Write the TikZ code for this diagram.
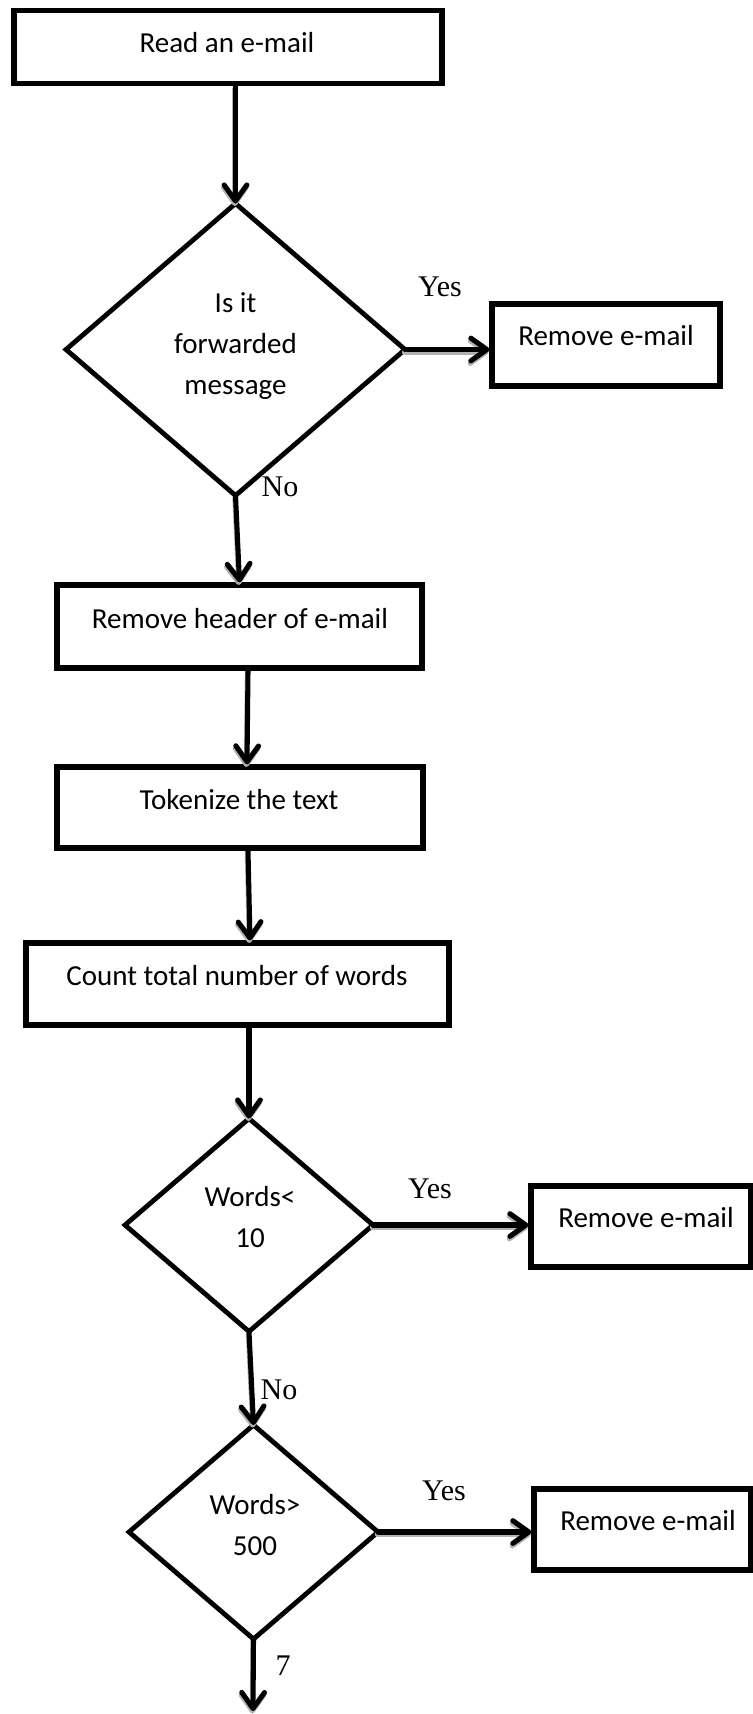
\documentclass[tikz,border=0pt]{standalone}
\usepackage{fontspec}
\usetikzlibrary{shapes.geometric,arrows.meta,calc}
\newfontfamily\calibrifont{Carlito}
\newfontfamily\timesfont{Liberation Serif}
\begin{document}
\begin{tikzpicture}[x=0.75pt,y=-0.75pt,
  stepbox/.style={draw, line width=3.9pt, rectangle, inner sep=0pt},
  decision/.style={draw, line width=3.6pt, diamond, inner sep=0pt, outer sep=0pt},
  boxtext/.style={font=\calibrifont\fontsize{21.75}{30.75}\selectfont, inner sep=0pt, anchor=base},
  dtext/.style={font=\calibrifont\fontsize{21.75}{30.75}\selectfont, align=center, inner sep=0pt},
  answer/.style={font=\timesfont\fontsize{22.5}{27}\selectfont, inner sep=0pt},
  flow/.style={line width=3.8pt, line cap=round,
    -{Straight Barb[length=12pt,width=17pt,round]}},
  flowshade/.style={flow, draw=gray!60, transform canvas={xshift=-0.5pt,yshift=-1.9pt}}]
\useasboundingbox (0,0) rectangle (753,1714);

% process steps
\node[stepbox, minimum width=321pt, minimum height=54.4pt] (b1) at (228,47) {};
\node[boxtext] (b1t) at (227,52) {Read an e-mail};

\node[decision, minimum width=254.25pt, minimum height=219pt] (d1) at (235.5,349.5) {};
\node[dtext] (d1t) at (235.5,346) {Is it\\forwarded\\message};

\node[stepbox, minimum width=171pt, minimum height=61.5pt] (r1) at (606,345) {};
\node[boxtext] (r1t) at (606,345) {Remove e-mail};

\node[stepbox, minimum width=273.75pt, minimum height=62.25pt] (b2) at (239.5,626.5) {};
\node[boxtext] (b2t) at (240,628) {Remove header of e-mail};

\node[stepbox, minimum width=274.5pt, minimum height=60.75pt] (b3) at (240,807.5) {};
\node[boxtext] (b3t) at (239,809) {Tokenize the text};

\node[stepbox, minimum width=317.25pt, minimum height=61.5pt] (b4) at (237.5,984) {};
\node[boxtext] (b4t) at (237,985) {Count total number of words};

\node[decision, minimum width=186pt, minimum height=159.75pt] (d2) at (249,1225) {};
\node[dtext] (d2t) at (250,1217.5) {Words<\\10};

\node[stepbox, minimum width=164.6pt, minimum height=60.75pt] (r2) at (640.75,1226.5) {};
\node[boxtext] (r2t) at (646,1227) {Remove e-mail};

\node[decision, minimum width=186.75pt, minimum height=160.5pt] (d3) at (253.5,1532) {};
\node[dtext] (d3t) at (255,1525.5) {Words>\\500};

\node[stepbox, minimum width=162.4pt, minimum height=60.75pt] (r3) at (642.25,1529.5) {};
\node[boxtext] (r3t) at (648,1530) {Remove e-mail};

\coordinate (out) at (253,1711);

% branch labels
\node[answer] (yes1) at (440,287) {Yes};
\node[answer] (no1) at (280,487) {No};
\node[answer] (yes2) at (430,1189) {Yes};
\node[answer] (no2) at (279,1390) {No};
\node[answer] (yes3) at (444,1491) {Yes};
\node[answer] (seven) at (283,1666) {7};

% connectors: a grey offset copy underneath, then the black stroke
\foreach \s in {flowshade,flow} {
  \draw[\s] (b1.south -| d1.north) -- (d1.north);
  \draw[\s] (d1.east) -- (d1.east -| r1.west);
  \draw[\s] (d1.south) -- (b2.north);
  \draw[\s] ($(b2.south)+(8.5,0)$) -- ($(b3.north)+(7,0)$);
  \draw[\s] ($(b3.south)+(8,0)$) -- ($(b4.north)+(12.5,0)$);
  \draw[\s] (d2.north |- b4.south) -- (d2.north);
  \draw[\s] (d2.east) -- (d2.east -| r2.west);
  \draw[\s] (d2.south) -- (d3.north);
  \draw[\s] (d3.east) -- (d3.east -| r3.west);
  \draw[\s] (d3.south) -- (out);
}
\end{tikzpicture}
\end{document}
